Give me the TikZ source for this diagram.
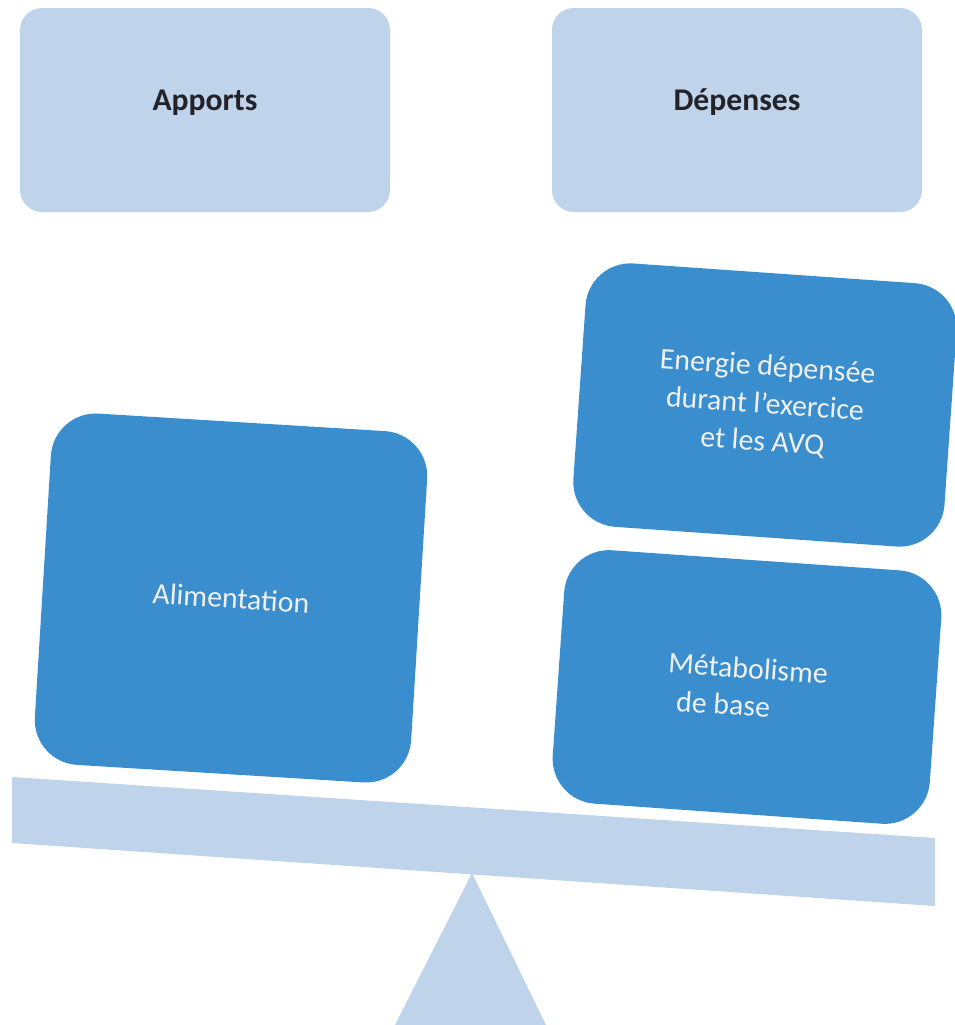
\documentclass[tikz,border=0pt]{standalone}
\usepackage{fontspec}
\setmainfont{Carlito}
\newlength{\du}
\setlength{\du}{0.02cm}
\definecolor{panelcolor}{RGB}{191,211,235}
\definecolor{blockcolor}{RGB}{58,142,206}
\definecolor{labelcolor}{RGB}{34,34,40}
\begin{document}
\begin{tikzpicture}[x=\du,y=-1\du,
  headbox/.style={fill=panelcolor,rounded corners=22\du,minimum width=370\du,minimum height=204\du,
    inner sep=0pt,text depth=20\du,text=labelcolor,font=\fontsize{18}{22}\selectfont\bfseries},
  weightbox/.style={fill=blockcolor,rounded corners=45\du,inner sep=0pt,text=white!94!black,
    align=center,font=\fontsize{17}{21.5}\selectfont}]
\useasboundingbox (0,0) rectangle (955,1025);
% titles
\node[headbox] (apports) at (205,110) {Apports};
\node[headbox] (depenses) at (737,110) {Dépenses};
% weights on the scale
\node[weightbox,minimum width=377\du,minimum height=352\du,rotate=-3.5] (alim) at (231,598) {Alimentation};
\node[weightbox,minimum width=372\du,minimum height=264\du,rotate=-4] (energie) at (765,405)
  {Energie dépensée\\durant l’exercice\\et les AVQ};
\node[weightbox,minimum width=378\du,minimum height=254\du,rotate=-4,align=left] (metab) at (747,687)
  {Métabolisme\\\hspace{0.35em}de base};
% beam and pivot
\coordinate (beamleft) at (12,777);
\coordinate (beamright) at (935,838);
\coordinate (apex) at (472,873);
\fill[panelcolor] (beamleft) -- (beamright) -- ++(0,68) -- (12,843) -- cycle;
\fill[panelcolor] (apex) -- (546,1025) -- (395,1025) -- cycle;
\end{tikzpicture}
\end{document}
